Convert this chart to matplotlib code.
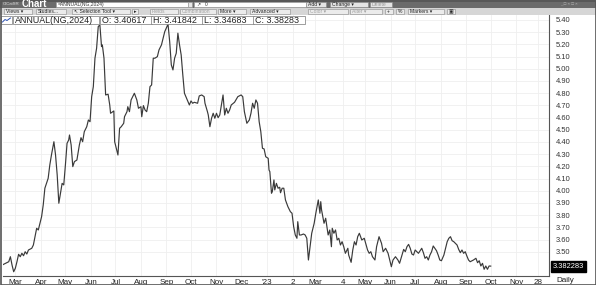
import matplotlib
matplotlib.use("Agg")
import matplotlib.pyplot as plt
from matplotlib.patches import Rectangle
import pandas as pd

plt.rcParams['font.family'] = ['Liberation Sans', 'DejaVu Sans']

# ANNUAL(NG,2024) daily closes
dates = [
    "2022-02-13", "2022-02-17", "2022-02-21", "2022-02-23", "2022-02-25", "2022-02-27",
    "2022-03-01", "2022-03-03", "2022-03-05", "2022-03-07", "2022-03-09", "2022-03-11",
    "2022-03-13", "2022-03-15", "2022-03-17", "2022-03-21", "2022-03-23", "2022-03-25",
    "2022-03-27", "2022-03-29", "2022-03-31", "2022-04-02", "2022-04-04", "2022-04-06",
    "2022-04-10", "2022-04-12", "2022-04-14", "2022-04-17", "2022-04-19", "2022-04-21",
    "2022-04-23", "2022-04-26", "2022-04-27", "2022-04-29", "2022-05-01", "2022-05-03",
    "2022-05-05", "2022-05-06", "2022-05-08", "2022-05-10", "2022-05-12", "2022-05-15",
    "2022-05-18", "2022-05-20", "2022-05-22", "2022-05-24", "2022-05-27", "2022-05-29",
    "2022-05-31", "2022-06-02", "2022-06-04", "2022-06-06", "2022-06-08", "2022-06-10",
    "2022-06-12", "2022-06-14", "2022-06-15", "2022-06-17", "2022-06-19", "2022-06-22",
    "2022-06-24", "2022-06-25", "2022-06-29", "2022-06-30", "2022-07-04", "2022-07-06",
    "2022-07-08", "2022-07-11", "2022-07-12", "2022-07-15", "2022-07-16", "2022-07-18",
    "2022-07-20", "2022-07-24", "2022-07-27", "2022-07-29", "2022-08-01", "2022-08-02",
    "2022-08-04", "2022-08-06", "2022-08-08", "2022-08-10", "2022-08-12", "2022-08-14",
    "2022-08-16", "2022-08-18", "2022-08-21", "2022-08-23", "2022-08-26", "2022-08-28",
    "2022-08-30", "2022-09-03", "2022-09-05", "2022-09-07", "2022-09-09", "2022-09-11",
    "2022-09-13", "2022-09-15", "2022-09-17", "2022-09-19", "2022-09-21", "2022-09-23",
    "2022-09-27", "2022-09-29", "2022-10-01", "2022-10-03", "2022-10-05", "2022-10-09",
    "2022-10-11", "2022-10-14", "2022-10-17", "2022-10-18", "2022-10-21", "2022-10-22",
    "2022-10-24", "2022-10-26", "2022-10-28", "2022-10-30", "2022-11-01", "2022-11-03",
    "2022-11-05", "2022-11-07", "2022-11-09", "2022-11-11", "2022-11-13", "2022-11-15",
    "2022-11-17", "2022-11-19", "2022-11-23", "2022-11-27", "2022-12-01", "2022-12-03",
    "2022-12-05", "2022-12-08", "2022-12-11", "2022-12-13", "2022-12-15", "2022-12-17",
    "2022-12-19", "2022-12-21", "2022-12-23", "2022-12-25", "2022-12-27", "2022-12-29",
    "2022-12-31", "2023-01-03", "2023-01-04", "2023-01-05", "2023-01-07", "2023-01-08",
    "2023-01-10", "2023-01-11", "2023-01-13", "2023-01-15", "2023-01-17", "2023-01-18",
    "2023-01-20", "2023-01-22", "2023-01-24", "2023-01-27", "2023-01-30", "2023-02-01",
    "2023-02-03", "2023-02-05", "2023-02-07", "2023-02-08", "2023-02-10", "2023-02-12",
    "2023-02-15", "2023-02-17", "2023-02-19", "2023-02-21", "2023-02-23", "2023-02-25",
    "2023-02-28", "2023-03-02", "2023-03-05", "2023-03-07", "2023-03-08", "2023-03-09",
    "2023-03-12", "2023-03-14", "2023-03-17", "2023-03-19", "2023-03-21", "2023-03-22",
    "2023-03-24", "2023-03-26", "2023-03-28", "2023-03-30", "2023-04-01", "2023-04-03",
    "2023-04-05", "2023-04-07", "2023-04-10", "2023-04-11", "2023-04-14", "2023-04-16",
    "2023-04-18", "2023-04-20", "2023-04-22", "2023-04-24", "2023-04-27", "2023-04-30",
    "2023-05-04", "2023-05-06", "2023-05-08", "2023-05-10", "2023-05-13", "2023-05-15",
    "2023-05-18", "2023-05-21", "2023-05-23", "2023-05-26", "2023-05-29", "2023-06-02",
    "2023-06-04", "2023-06-07", "2023-06-10", "2023-06-12", "2023-06-15", "2023-06-17",
    "2023-06-19", "2023-06-21", "2023-06-23", "2023-06-25", "2023-06-27", "2023-06-29",
    "2023-07-01", "2023-07-03", "2023-07-05", "2023-07-07", "2023-07-09", "2023-07-11",
    "2023-07-13", "2023-07-15", "2023-07-17", "2023-07-19", "2023-07-21", "2023-07-23",
    "2023-07-25", "2023-07-27", "2023-07-29", "2023-07-31", "2023-08-02", "2023-08-05",
    "2023-08-07", "2023-08-09", "2023-08-11", "2023-08-13", "2023-08-15", "2023-08-17",
    "2023-08-19", "2023-08-21", "2023-08-23", "2023-08-25", "2023-08-27", "2023-08-29",
    "2023-08-31", "2023-09-02", "2023-09-04", "2023-09-06", "2023-09-10", "2023-09-13",
    "2023-09-15", "2023-09-17", "2023-09-19", "2023-09-21", "2023-09-23", "2023-09-25",
    "2023-09-27", "2023-09-29", "2023-10-01",
]
closes = [
    3.392, 3.406, 3.419, 3.460, 3.392, 3.337,
    3.365, 3.419, 3.480, 3.460, 3.488, 3.468,
    3.501, 3.482, 3.515, 3.529, 3.556, 3.624,
    3.693, 3.679, 3.734, 3.788, 3.884, 4.021,
    4.102, 4.211, 4.293, 4.402, 4.293, 4.130,
    3.898, 4.021, 4.061, 4.048, 4.211, 4.389,
    4.416, 4.457, 4.375, 4.198, 4.239, 4.252,
    4.375, 4.435, 4.402, 4.484, 4.525, 4.580,
    4.566, 4.771, 4.853, 5.086, 5.168, 5.345,
    5.359, 5.181, 5.195, 5.086, 4.785, 4.791,
    4.703, 4.635, 4.654, 4.402, 4.293, 4.512,
    4.525, 4.553, 4.607, 4.648, 4.689, 4.648,
    4.744, 4.799, 4.744, 4.676, 4.689, 4.607,
    4.698, 4.662, 4.648, 4.717, 4.853, 4.867,
    5.086, 5.086, 5.099, 5.154, 5.195, 5.250,
    5.304, 5.365, 5.222, 5.031, 4.990, 5.086,
    5.127, 5.291, 5.195, 5.113, 4.949, 4.799,
    4.736, 4.703, 4.736, 4.717, 4.725, 4.717,
    4.777, 4.785, 4.771, 4.717, 4.648, 4.621,
    4.525, 4.594, 4.635, 4.594, 4.635, 4.599,
    4.621, 4.703, 4.785, 4.621, 4.676, 4.635,
    4.662, 4.703, 4.725, 4.771, 4.785, 4.771,
    4.648, 4.553, 4.580, 4.635, 4.717, 4.676,
    4.744, 4.717, 4.566, 4.484, 4.348, 4.343,
    4.279, 4.266, 4.170, 4.157, 3.980, 3.993,
    4.089, 4.007, 4.061, 4.021, 4.029, 3.984,
    4.021, 4.021, 3.925, 3.870, 3.829, 3.816,
    3.706, 3.638, 3.611, 3.747, 3.638, 3.638,
    3.646, 3.638, 3.611, 3.433, 3.542, 3.652,
    3.734, 3.816, 3.925, 3.816, 3.911, 3.843,
    3.734, 3.775, 3.638, 3.679, 3.542, 3.693,
    3.652, 3.679, 3.597, 3.611, 3.556, 3.583,
    3.542, 3.488, 3.529, 3.474, 3.414, 3.515,
    3.583, 3.556, 3.624, 3.652, 3.597, 3.611,
    3.515, 3.488, 3.501, 3.460, 3.433, 3.542,
    3.624, 3.570, 3.501, 3.529, 3.488, 3.378,
    3.433, 3.460, 3.433, 3.406, 3.474, 3.520,
    3.501, 3.542, 3.561, 3.529, 3.482, 3.474,
    3.515, 3.501, 3.488, 3.509, 3.529, 3.493,
    3.447, 3.460, 3.433, 3.474, 3.501, 3.548,
    3.529, 3.509, 3.474, 3.433, 3.427, 3.474,
    3.529, 3.583, 3.611, 3.624, 3.591, 3.583,
    3.570, 3.556, 3.520, 3.493, 3.515, 3.488,
    3.501, 3.465, 3.433, 3.419, 3.433, 3.447,
    3.411, 3.427, 3.384, 3.406, 3.357, 3.384,
    3.357, 3.384, 3.383,
]

tick_dates = ["2022-03-01", "2022-04-01", "2022-05-01", "2022-06-01", "2022-07-01",
              "2022-08-01", "2022-09-01", "2022-10-01", "2022-11-01", "2022-12-01",
              "2023-01-01", "2023-02-02", "2023-03-01", "2023-04-04", "2023-05-01",
              "2023-06-01", "2023-07-01", "2023-08-01", "2023-09-01", "2023-10-01",
              "2023-11-01", "2023-11-28"]
tick_labels = ["Mar", "Apr", "May", "Jun", "Jul", "Aug", "Sep", "Oct", "Nov", "Dec",
               "'23", "2", "Mar", "4", "May", "Jun", "Jul", "Aug", "Sep", "Oct",
               "Nov", "28"]
price_ticks = [3.5 + 0.1 * i for i in range(20)]
ohlc = {"O": "3.40617", "H": "3.41842", "L": "3.34683", "C": "3.38283"}
last_close = 3.38283

W, H = 596, 285
fig = plt.figure(figsize=(W / 100, H / 100), dpi=100)
fig.patch.set_facecolor("white")


def fx(px):
    return px / W


def fy(py):
    return 1 - py / H


# main price panel
ax = fig.add_axes([fx(3), fy(276), fx(549) - fx(3), fy(15) - fy(276)])
d = pd.to_datetime(dates)
ax.plot(d, closes, color="#3a3a3a", lw=0.85, zorder=3)

ax.set_xlim(pd.Timestamp("2022-02-14"), pd.Timestamp("2023-12-11"))
ax.set_ylim(3.302, 5.44)
ax.set_xticks(pd.to_datetime(tick_dates))
ax.set_xticklabels(tick_labels)
ax.set_yticks(price_ticks)
ax.set_yticklabels(["%.2f" % v for v in price_ticks])
ax.yaxis.tick_right()
ax.tick_params(axis="y", length=0, pad=5, labelsize=5.4, labelcolor="#333333")
ax.tick_params(axis="x", length=0, pad=2.5, labelsize=5.8, labelcolor="#222222")
for lab in ax.get_yticklabels():
    lab.set_horizontalalignment("left")
ax.grid(True, color="#efefef", lw=0.6, zorder=0)
for side in ["top", "left"]:
    ax.spines[side].set_visible(False)
ax.spines["right"].set_color("#555555")
ax.spines["bottom"].set_color("#555555")
ax.spines["right"].set_linewidth(0.8)
ax.spines["bottom"].set_linewidth(0.8)

# last value marker on the price scale
ax.annotate("3.382283", xy=(1.0, last_close), xycoords=("axes fraction", "data"),
            xytext=(3, 0), textcoords="offset points", ha="left", va="center",
            fontsize=5.4, color="white", annotation_clip=False,
            bbox=dict(boxstyle="square,pad=0.25", fc="black", ec="black"))

# window chrome drawn in pixel space
ov = fig.add_axes([0, 0, 1, 1], zorder=10)
ov.set_xlim(0, W)
ov.set_ylim(H, 0)
ov.axis("off")
ov.patch.set_alpha(0)

# title bar
ov.add_patch(Rectangle((0, 0), W, 8, fc="#6b6b6b", ec="none"))
ov.text(3, 4.2, "ClCaiSR", fontsize=3.2, color="#dddddd", va="center")
ov.text(22, 4.4, "Chart", fontsize=7, fontweight="bold", color="white", va="center")
ov.add_patch(Rectangle((56, 1.5), 132, 5, fc="white", ec="#999999", lw=0.4))
ov.text(58, 4.1, "=ANNUAL(NG,2024)", fontsize=3.6, color="#333333", va="center")
ov.add_patch(Rectangle((188, 1.5), 4, 5, fc="#e8e8e8", ec="#999999", lw=0.4))
ov.add_patch(Rectangle((194, 1.5), 112, 5, fc="white", ec="#999999", lw=0.4))
ov.text(197, 4.1, "\u2197   0", fontsize=3.4, color="#333333", va="center")
for x0, w, t in [(306, 20, "Add \u25be"), (330, 38, "Change \u25be"), (370, 22, "Delete")]:
    ov.add_patch(Rectangle((x0, 1.5), w, 5, fc="#e4e4e4", ec="#888888", lw=0.4))
    ov.text(x0 + 2, 4.1, t, fontsize=3.6, va="center",
            color="#999999" if t == "Delete" else "#222222")
ov.text(560, 4.1, "_ \u25a1 \u00d7 \u25a1 \u00d7", fontsize=3.2, color="#bbbbbb", va="center")

# toolbar row
ov.add_patch(Rectangle((0, 8), W, 7, fc="#d6d6d6", ec="none"))
buttons = [(4, 28, "Views \u25be", False), (36, 30, "Studies...", False),
           (72, 58, "\u2196 Selection Tool \u25be", False), (132, 6, "\u25b8", False),
           (150, 28, "Fields", True), (180, 36, "Combination", True),
           (218, 28, "More \u25be", False), (250, 40, "Advanced \u25be", False),
           (308, 40, "Color \u25be", True), (350, 32, "Alter \u25be", True),
           (385, 8, "+", False), (396, 8, "%", False),
           (408, 36, "Markers \u25be", False), (447, 8, "\u25a3", False)]
for x0, w, t, dim in buttons:
    ov.add_patch(Rectangle((x0, 9), w, 5, fc="#ebebeb", ec="#8a8a8a", lw=0.4))
    ov.text(x0 + 2, 11.6, t, fontsize=3.6, va="center",
            color="#a0a0a0" if dim else "#222222")

# legend row over the top of the plot
ov.add_patch(Rectangle((1, 16), 11, 8, fc="white", ec="#777777", lw=0.5))
ov.plot([2.5, 5, 7, 10.5], [22, 19.5, 20.5, 18], color="#2a4fb0", lw=0.7)
boxes = [(13, 86, "ANNUAL(NG,2024)")]
x0 = 100
for k, v in ohlc.items():
    boxes.append((x0, 52, "%s: %s" % (k, v)))
    x0 += 51
for bx, w, t in boxes:
    ov.add_patch(Rectangle((bx, 16), w, 8, fc="white", ec="#777777", lw=0.5))
    ov.text(bx + 2, 20.3, t, fontsize=6.4, color="#222222", va="center")

# period label under the price scale
ov.text(556, 281, "Daily", fontsize=5.8, color="#222222", va="center")

# screenshot frame
ov.add_patch(Rectangle((0.5, 0.5), W - 1, H - 1, fc="none", ec="#555555", lw=1.2))

fig.savefig("out.png", dpi=100)
